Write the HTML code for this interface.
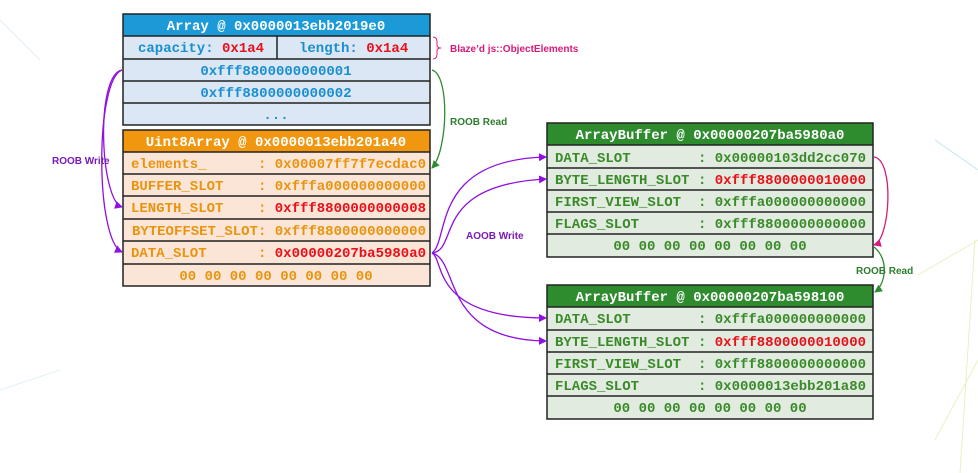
<!DOCTYPE html>
<html><head><meta charset="utf-8"><style>
html,body{margin:0;padding:0;background:#fff;}
svg{display:block;}
.m{font-family:"Liberation Mono",monospace;font-weight:bold;font-size:14px;}
.s{font-family:"Liberation Sans",sans-serif;font-weight:bold;font-size:10px;}
</style></head><body>
<svg width="978" height="473" viewBox="0 0 978 473" xmlns="http://www.w3.org/2000/svg">
<defs>
<marker id="ap" markerWidth="8" markerHeight="8" refX="7" refY="4" orient="auto" markerUnits="userSpaceOnUse"><path d="M0,0 L8,4 L0,8z" fill="#9010e0"/></marker>
<marker id="ag" markerWidth="8" markerHeight="8" refX="7" refY="4" orient="auto" markerUnits="userSpaceOnUse"><path d="M0,0 L8,4 L0,8z" fill="#2e8b2e"/></marker>
<marker id="ak" markerWidth="8" markerHeight="8" refX="7" refY="4" orient="auto" markerUnits="userSpaceOnUse"><path d="M0,0 L8,4 L0,8z" fill="#d81b7a"/></marker>
</defs>
<g stroke-width="1" fill="none" opacity="0.6">
<path d="M0,20 L40,60" stroke="#cfe6f2"/><path d="M0,390 L60,370" stroke="#cfe6f2"/>
<path d="M935,140 L978,170" stroke="#9fd3ee"/><path d="M918,275 L978,240" stroke="#dfe59a"/>
<path d="M935,440 L978,360" stroke="#dfe59a"/><path d="M975,240 L960,473" stroke="#dfe59a"/>
</g>
<rect x="123" y="14" width="307" height="22" fill="#1c9ad8"/>
<text x="276" y="30" class="m" fill="#fff" text-anchor="middle">Array @ 0x0000013ebb2019e0</text>
<rect x="123" y="36" width="307" height="89" fill="#dbe7f4"/>
<g stroke="#222" stroke-width="1.5" fill="none">
<rect x="123" y="14" width="307" height="111"/>
<line x1="123" y1="36" x2="430" y2="36"/><line x1="123" y1="59" x2="430" y2="59"/>
<line x1="123" y1="81" x2="430" y2="81"/><line x1="123" y1="103" x2="430" y2="103"/>
<line x1="277" y1="36" x2="277" y2="59"/>
</g>
<text x="138" y="52" class="m" fill="#1a8fd0">capacity: <tspan fill="#e8101a">0x1a4</tspan></text>
<text x="299" y="52" class="m" fill="#1a8fd0">length: <tspan fill="#e8101a">0x1a4</tspan></text>
<text x="276" y="75" class="m" fill="#1a8fd0" text-anchor="middle">0xfff8800000000001</text>
<text x="276" y="97" class="m" fill="#1a8fd0" text-anchor="middle">0xfff8800000000002</text>
<text x="276" y="119" class="m" fill="#1a8fd0" text-anchor="middle">...</text>
<path d="M433,37 q4,0 4,5 v3 q0,3 4,3 q-4,0 -4,3 v3 q0,5 -4,5" stroke="#d81b7a" fill="none"/>
<text x="450" y="52" class="s" fill="#d81b7a" font-size="11">Blaze’d js::ObjectElements</text>
<rect x="123" y="130" width="307" height="22" fill="#f0960f"/>
<text x="276" y="146" class="m" fill="#fff" text-anchor="middle">Uint8Array @ 0x0000013ebb201a40</text>
<rect x="123" y="152" width="307" height="134" fill="#fbe5d6"/>
<g stroke="#222" stroke-width="1.5" fill="none">
<rect x="123" y="130" width="307" height="156"/>
<line x1="123" y1="152" x2="430" y2="152"/><line x1="123" y1="174" x2="430" y2="174"/>
<line x1="123" y1="196" x2="430" y2="196"/><line x1="123" y1="219" x2="430" y2="219"/>
<line x1="123" y1="241" x2="430" y2="241"/><line x1="123" y1="264" x2="430" y2="264"/>
</g>
<g class="m" fill="#e8940f">
<text x="131" y="168">elements_</text><text x="426" y="168" text-anchor="end">: 0x00007ff7f7ecdac0</text>
<text x="131" y="190">BUFFER_SLOT</text><text x="426" y="190" text-anchor="end">: 0xfffa000000000000</text>
<text x="131" y="212">LENGTH_SLOT</text><text x="426" y="212" text-anchor="end">: <tspan fill="#e8101a">0xfff8800000000008</tspan></text>
<text x="426" y="235" text-anchor="end">BYTEOFFSET_SLOT: 0xfff8800000000000</text>
<text x="131" y="257">DATA_SLOT</text><text x="426" y="257" text-anchor="end">: <tspan fill="#e8101a">0x00000207ba5980a0</tspan></text>
<text x="276" y="280" text-anchor="middle">00 00 00 00 00 00 00 00</text>
</g>
<g>
<rect x="547" y="123" width="326" height="22" fill="#2e8b2e"/>
<text x="710" y="139" class="m" fill="#fff" text-anchor="middle">ArrayBuffer @ 0x00000207ba5980a0</text>
<rect x="547" y="145" width="326" height="112" fill="#e2ebe0"/>
<g stroke="#222" stroke-width="1.5" fill="none">
<rect x="547" y="123" width="326" height="134"/>
<line x1="547" y1="145" x2="873" y2="145"/><line x1="547" y1="168" x2="873" y2="168"/>
<line x1="547" y1="190" x2="873" y2="190"/><line x1="547" y1="212" x2="873" y2="212"/>
<line x1="547" y1="234" x2="873" y2="234"/>
</g>
<g class="m" fill="#3a8a2a">
<text x="555" y="162">DATA_SLOT</text><text x="866" y="162" text-anchor="end">: 0x00000103dd2cc070</text>
<text x="555" y="184">BYTE_LENGTH_SLOT</text><text x="866" y="184" text-anchor="end">: <tspan fill="#e8101a">0xfff8800000010000</tspan></text>
<text x="555" y="206">FIRST_VIEW_SLOT</text><text x="866" y="206" text-anchor="end">: 0xfffa000000000000</text>
<text x="555" y="228">FLAGS_SLOT</text><text x="866" y="228" text-anchor="end">: 0xfff8800000000000</text>
<text x="710" y="250" text-anchor="middle">00 00 00 00 00 00 00 00</text>
</g>
</g>
<g>
<rect x="547" y="285" width="326" height="22" fill="#2e8b2e"/>
<text x="710" y="301" class="m" fill="#fff" text-anchor="middle">ArrayBuffer @ 0x00000207ba598100</text>
<rect x="547" y="307" width="326" height="112" fill="#e2ebe0"/>
<g stroke="#222" stroke-width="1.5" fill="none">
<rect x="547" y="285" width="326" height="134"/>
<line x1="547" y1="307" x2="873" y2="307"/><line x1="547" y1="330" x2="873" y2="330"/>
<line x1="547" y1="352" x2="873" y2="352"/><line x1="547" y1="374" x2="873" y2="374"/>
<line x1="547" y1="396" x2="873" y2="396"/>
</g>
<g class="m" fill="#3a8a2a">
<text x="555" y="323">DATA_SLOT</text><text x="866" y="323" text-anchor="end">: 0xfffa000000000000</text>
<text x="555" y="346">BYTE_LENGTH_SLOT</text><text x="866" y="346" text-anchor="end">: <tspan fill="#e8101a">0xfff8800000010000</tspan></text>
<text x="555" y="368">FIRST_VIEW_SLOT</text><text x="866" y="368" text-anchor="end">: 0xfff8800000000000</text>
<text x="555" y="390">FLAGS_SLOT</text><text x="866" y="390" text-anchor="end">: 0x0000013ebb201a80</text>
<text x="710" y="412" text-anchor="middle">00 00 00 00 00 00 00 00</text>
</g>
</g>
<g fill="none" stroke-width="1.3">
<path d="M122,70 C95,75 100,200 122,207" stroke="#9010e0" marker-end="url(#ap)"/>
<path d="M122,70 C95,80 95,240 122,252" stroke="#9010e0" marker-end="url(#ap)"/>
<path d="M432,70 C450,75 448,150 432,168" stroke="#2e8b2e" marker-end="url(#ag)"/>
<path d="M432,253 C450,240 430,160 546,157" stroke="#9010e0" marker-end="url(#ap)"/>
<path d="M432,253 C460,250 430,185 546,179" stroke="#9010e0" marker-end="url(#ap)"/>
<path d="M432,253 C445,260 430,318 546,318" stroke="#9010e0" marker-end="url(#ap)"/>
<path d="M432,253 C460,260 440,340 546,341" stroke="#9010e0" marker-end="url(#ap)"/>
<path d="M874,157 C895,160 890,240 874,245" stroke="#d81b7a" marker-end="url(#ak)"/>
<path d="M874,247 C890,260 885,285 875,292" stroke="#2e8b2e" marker-end="url(#ag)"/>
</g>
<text x="52" y="164" class="s" fill="#7a1ab8">ROOB Write</text>
<text x="450" y="125" class="s" fill="#2e7d2e">ROOB Read</text>
<text x="466" y="239" class="s" fill="#7a1ab8">AOOB Write</text>
<text x="856" y="274" class="s" fill="#2e7d2e">ROOB Read</text>
</svg>
</body></html>
